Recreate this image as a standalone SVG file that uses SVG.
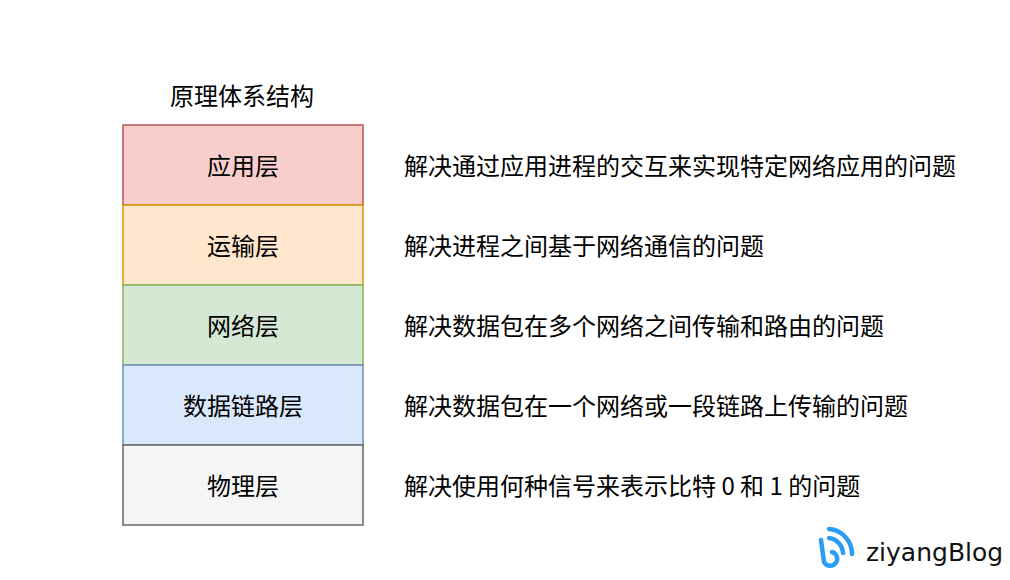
<svg xmlns="http://www.w3.org/2000/svg" width="1010" height="580" viewBox="0 0 1010 580">
<style>
text{font-family:"Noto Sans CJK SC","Noto Sans",sans-serif;font-size:24px;fill:#000}
.c{text-anchor:middle;dominant-baseline:central}
.d{dominant-baseline:central}
rect{stroke-width:1.5}
</style>
<rect width="1010" height="580" fill="#fff"/>
<text class="c" x="242" y="94">原理体系结构</text>
<g id="app"><rect x="123" y="125" width="240" height="80" fill="#f8cecc" stroke="#b85450"/><text class="c" x="243" y="164">应用层</text></g>
<g id="transport"><rect x="123" y="205" width="240" height="80" fill="#ffe6cc" stroke="#d79b00"/><text class="c" x="243" y="244">运输层</text></g>
<g id="network"><rect x="123" y="285" width="240" height="80" fill="#d5e8d4" stroke="#82b366"/><text class="c" x="243" y="324">网络层</text></g>
<g id="link"><rect x="123" y="365" width="240" height="80" fill="#dae8fc" stroke="#6c8ebf"/><text class="c" x="243" y="404">数据链路层</text></g>
<g id="phys"><rect x="123" y="445" width="240" height="80" fill="#f5f5f5" stroke="#666666"/><text class="c" x="243" y="484">物理层</text></g>
<g id="connectors"></g>
<text class="d" x="404" y="164">解决通过应用进程的交互来实现特定网络应用的问题</text>
<text class="d" x="404" y="244">解决进程之间基于网络通信的问题</text>
<text class="d" x="404" y="324">解决数据包在多个网络之间传输和路由的问题</text>
<text class="d" x="404" y="404">解决数据包在一个网络或一段链路上传输的问题</text>
<text class="d" x="404" y="484">解决使用何种信号来表示比特 0 和 1 的问题</text>
<g id="logo" fill="none" stroke="#2a9df4" stroke-linecap="round" stroke-width="4.5">
<path d="M821 540 L824 562 A7 7 0 1 0 832 552"/>
<path d="M829 538 A16 16 0 0 1 843 553"/>
<path d="M829 529 A25 25 0 0 1 852 554"/>
</g>
<text x="866" y="561" style="font-family:'DejaVu Sans',sans-serif;font-size:25px;fill:#111">ziyangBlog</text>
</svg>
